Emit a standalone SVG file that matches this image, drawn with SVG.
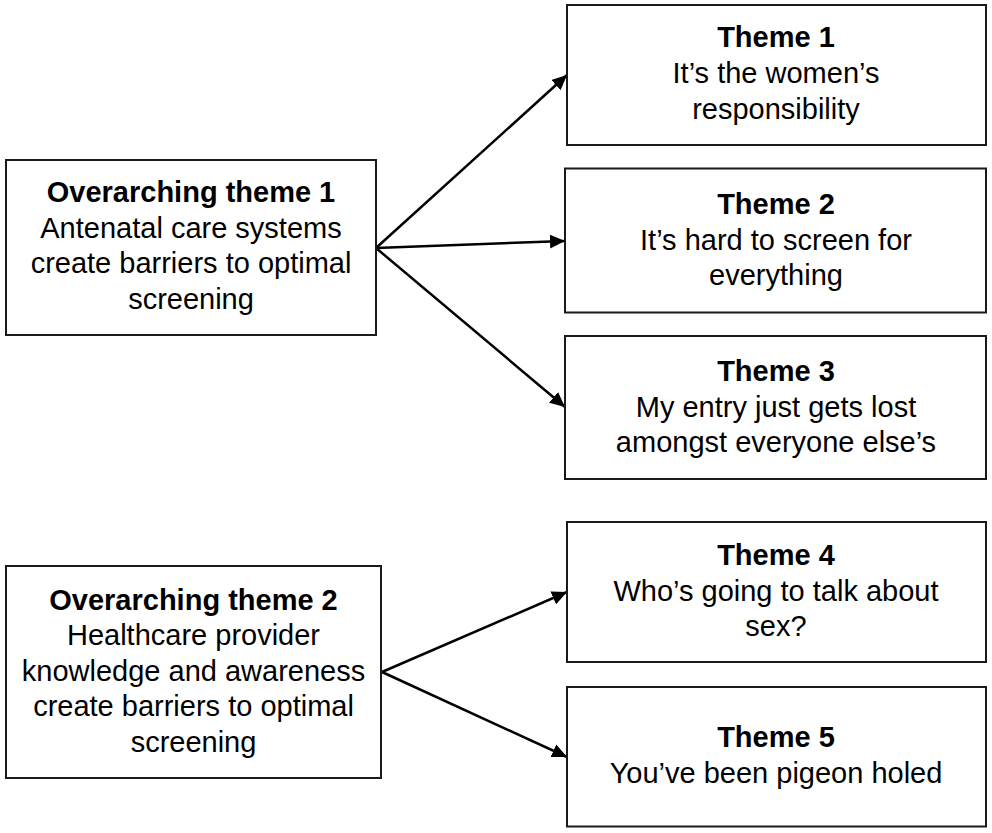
<svg xmlns="http://www.w3.org/2000/svg" width="992" height="833" viewBox="0 0 992 833">
<defs>
<style>
.box{fill:#fff;stroke:#1a1a1a;stroke-width:2}
.t{font-family:"Liberation Sans",Arial,sans-serif;font-size:29px;fill:#000;text-anchor:middle}
.b{font-weight:bold}
.edge{stroke:#000;stroke-width:2.5;fill:none;marker-end:url(#ah)}
</style>
<marker id="ah" markerUnits="userSpaceOnUse" markerWidth="16" markerHeight="14" refX="15" refY="7" orient="auto">
<path d="M0,0 L15,7 L0,14 Z" fill="#000"/>
</marker>
</defs>
<rect width="992" height="833" fill="#fff"/>
<g id="connectors">
<line class="edge" x1="376" y1="248" x2="567" y2="75"/>
<line class="edge" x1="376" y1="248" x2="565" y2="241"/>
<line class="edge" x1="376" y1="248" x2="565" y2="407"/>
<line class="edge" x1="382" y1="672" x2="567" y2="592"/>
<line class="edge" x1="382" y1="672" x2="567" y2="757"/>
</g>
<g id="overarching1">
<rect class="box" x="6" y="160" width="370" height="175"/>
<text class="t b" x="191" y="201.5">Overarching theme 1</text>
<text class="t" x="191" y="237.5">Antenatal care systems</text>
<text class="t" x="191" y="273">create barriers to optimal</text>
<text class="t" x="191" y="308.5">screening</text>
</g>
<g id="overarching2">
<rect class="box" x="6" y="566" width="375" height="212"/>
<text class="t b" x="193.5" y="609.5">Overarching theme 2</text>
<text class="t" x="193.5" y="645">Healthcare provider</text>
<text class="t" x="193.5" y="680.5">knowledge and awareness</text>
<text class="t" x="193.5" y="716">create barriers to optimal</text>
<text class="t" x="193.5" y="751.5">screening</text>
</g>
<g id="theme1">
<rect class="box" x="567" y="5" width="419" height="140"/>
<text class="t b" x="776" y="47">Theme 1</text>
<text class="t" x="776" y="83">It’s the women’s</text>
<text class="t" x="776" y="118.5">responsibility</text>
</g>
<g id="theme2">
<rect class="box" x="565" y="168.5" width="421" height="144"/>
<text class="t b" x="776" y="214">Theme 2</text>
<text class="t" x="776" y="249.5">It’s hard to screen for</text>
<text class="t" x="776" y="285">everything</text>
</g>
<g id="theme3">
<rect class="box" x="565" y="336" width="421" height="143"/>
<text class="t b" x="776" y="380.5">Theme 3</text>
<text class="t" x="776" y="416.5">My entry just gets lost</text>
<text class="t" x="776" y="452">amongst everyone else’s</text>
</g>
<g id="theme4">
<rect class="box" x="567" y="522" width="419" height="140"/>
<text class="t b" x="776" y="565">Theme 4</text>
<text class="t" x="776" y="600.5">Who’s going to talk about</text>
<text class="t" x="776" y="636">sex?</text>
</g>
<g id="theme5">
<rect class="box" x="567" y="687" width="419" height="139.5"/>
<text class="t b" x="776" y="747">Theme 5</text>
<text class="t" x="776" y="782.5">You’ve been pigeon holed</text>
</g>
</svg>
